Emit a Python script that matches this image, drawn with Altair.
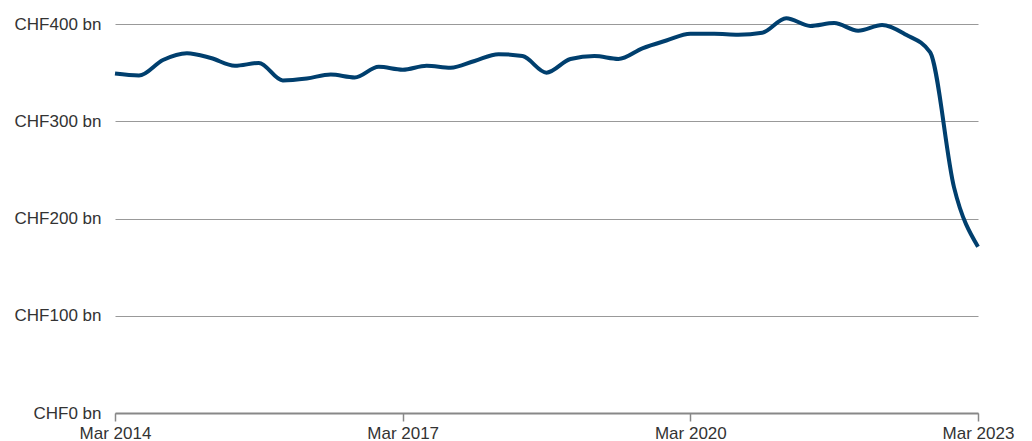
import altair as alt
import pandas as pd

quarters = ["Mar 2014","Jun 2014","Sep 2014","Dec 2014","Mar 2015","Jun 2015","Sep 2015","Dec 2015",
            "Mar 2016","Jun 2016","Sep 2016","Dec 2016","Mar 2017","Jun 2017","Sep 2017","Dec 2017",
            "Mar 2018","Jun 2018","Sep 2018","Dec 2018","Mar 2019","Jun 2019","Sep 2019","Dec 2019",
            "Mar 2020","Jun 2020","Sep 2020","Dec 2020","Mar 2021","Jun 2021","Sep 2021","Dec 2021",
            "Mar 2022","Jun 2022","Sep 2022","Dec 2022","Mar 2023"]
deposits = [349, 347, 363, 370, 365, 357, 360, 342, 344, 348, 345, 356, 353, 357, 355, 362,
            369, 367, 350, 364, 367, 364, 375, 383, 390, 390, 389, 391, 406, 398, 401, 393,
            399, 389, 371, 232, 171]

df = pd.DataFrame({"idx": list(range(len(quarters))), "quarter": quarters, "value": deposits})

tick_idx = [0, 12, 24, 36]
label_expr = "{" + ",".join(f"'{i}':'{quarters[i]}'" for i in tick_idx) + "}[toString(datum.value)]"

chart = alt.Chart(df).mark_line(
    color="#003f6e", strokeWidth=4, interpolate="monotone", clip=False
).encode(
    x=alt.X("idx:Q", title=None,
            scale=alt.Scale(domain=[0, 36], nice=False, zero=False),
            axis=alt.Axis(values=tick_idx, labelExpr=label_expr, grid=False, labelFlush=False,
                          domainColor="#888888", domainWidth=2, tickColor="#888888",
                          tickSize=8, tickWidth=1.5, labelPadding=4, labelFontSize=17,
                          labelColor="#333333", labelFont="Liberation Sans")),
    y=alt.Y("value:Q", title=None,
            scale=alt.Scale(domain=[0, 400], nice=False),
            axis=alt.Axis(values=[0, 100, 200, 300, 400], labelExpr="'CHF' + datum.value + ' bn'",
                          domain=False, ticks=False, gridColor="#999999", gridWidth=1,
                          labelPadding=14, labelFontSize=17, labelColor="#333333",
                          labelFont="Liberation Sans")),
).properties(
    width=863, height=389,
    autosize=alt.AutoSizeParams(type="none"),
    padding={"left": 115, "top": 24, "right": 54, "bottom": 28},
).configure_view(stroke=None)

chart.save("out.html", embed_options={"renderer": "svg", "actions": False})
